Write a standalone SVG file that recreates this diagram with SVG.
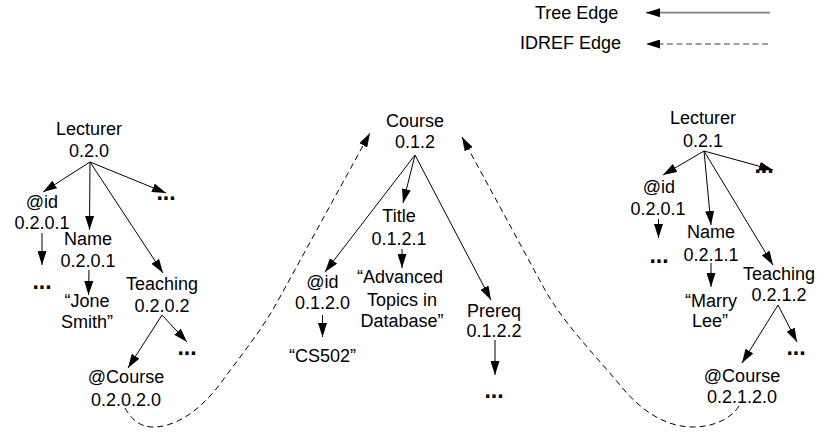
<svg xmlns="http://www.w3.org/2000/svg" width="818" height="432" viewBox="0 0 818 432">
  <style>
    text { font-family: "Liberation Sans", Arial, sans-serif; font-size: 18px; fill: #000; text-anchor: middle; }
    text.dots { font-weight: bold; font-size: 23px; }
    text.legend { text-anchor: start; }
    .tree { stroke: #000; stroke-width: 1; fill: none; marker-end: url(#head); }
    .idref { stroke: #000; stroke-width: 1; fill: none; stroke-dasharray: 6 4; marker-end: url(#head); }
    .leg-tree { stroke: #808080; stroke-width: 1.7; fill: none; marker-end: url(#head); }
    .leg-idref { stroke: #808080; stroke-width: 1.7; fill: none; stroke-dasharray: 6 3.5; marker-end: url(#head); }
  </style>
  <defs>
    <marker id="head" markerUnits="userSpaceOnUse" markerWidth="14" markerHeight="9" refX="14" refY="4.5" orient="auto">
      <path d="M0,0 L14,4.5 L0,9 Z" fill="#000" stroke="none"/>
    </marker>
  </defs>

  <!-- legend -->
  <g id="legend">
    <text class="legend" x="535" y="19">Tree Edge</text>
    <text class="legend" x="520" y="49">IDREF Edge</text>
    <path class="leg-tree" d="M770,12.7 L646,12.7"/>
    <path class="leg-idref" d="M768,44 L646,44"/>
  </g>

  <!-- connectors -->
  <g id="connectors">
    <!-- left Lecturer subtree -->
    <path class="tree" d="M90,162 L43,192"/>
    <path class="tree" d="M90,162 L89.5,230"/>
    <path class="tree" d="M90,162 L163,273"/>
    <path class="tree" d="M90,162 L166,193"/>
    <path class="tree" d="M42,233 L42,265"/>
    <path class="tree" d="M89,270 L88.5,295"/>
    <path class="tree" d="M162,315 L128,368"/>
    <path class="tree" d="M162,315 L187,342"/>
    <!-- Course subtree -->
    <path class="tree" d="M415,155 L403,203"/>
    <path class="tree" d="M402,249 L402,268"/>
    <path class="tree" d="M415,155 L325,272"/>
    <path class="tree" d="M322.5,315 L322.5,337"/>
    <path class="tree" d="M415,155 L491,300"/>
    <path class="tree" d="M495,340 L495,375"/>
    <!-- right Lecturer subtree -->
    <path class="tree" d="M704,151 L663,175"/>
    <path class="tree" d="M658.5,219 L658.5,238"/>
    <path class="tree" d="M704,151 L711,225"/>
    <path class="tree" d="M711,263 L711,287"/>
    <path class="tree" d="M704,151 L773,265"/>
    <path class="tree" d="M704,151 L773,170"/>
    <path class="tree" d="M778,305 L742,363"/>
    <path class="tree" d="M778,305 L797,342"/>
    <!-- IDREF references to Course -->
    <path class="idref" d="M125,408 C133,422 142,427 153,427 C180,427 205,405 223,380 C245,350 262,330 280,297 L370,133"/>
    <path class="idref" d="M739,406 C730,420 712,427 693,427 C665,427 640,410 620,385 C595,355 565,325 545,290 L462,137"/>
  </g>

  <!-- left Lecturer -->
  <g id="lecturer-020">
    <text x="89" y="135">Lecturer</text>
    <text x="89" y="157">0.2.0</text>
  </g>
  <g id="id-0201">
    <text x="42" y="208">@id</text>
    <text x="42" y="229">0.2.0.1</text>
  </g>
  <g id="id-0201-more"><text class="dots" x="42" y="289">...</text></g>
  <g id="name-0201">
    <text x="88" y="245">Name</text>
    <text x="88" y="267">0.2.0.1</text>
  </g>
  <g id="name-0201-value">
    <text x="87" y="307">“Jone</text>
    <text x="87" y="328">Smith”</text>
  </g>
  <g id="lecturer-020-more"><text class="dots" x="166" y="200">...</text></g>
  <g id="teaching-0202">
    <text x="162" y="290">Teaching</text>
    <text x="162" y="312">0.2.0.2</text>
  </g>
  <g id="teaching-0202-more"><text class="dots" x="187" y="355">...</text></g>
  <g id="course-02020">
    <text x="126" y="383">@Course</text>
    <text x="126" y="406">0.2.0.2.0</text>
  </g>

  <!-- Course -->
  <g id="course-012">
    <text x="415" y="127">Course</text>
    <text x="415" y="148">0.1.2</text>
  </g>
  <g id="title-0121">
    <text x="399" y="222">Title</text>
    <text x="399" y="245">0.1.2.1</text>
  </g>
  <g id="title-0121-value">
    <text x="400" y="283">“Advanced</text>
    <text x="402" y="306">Topics in</text>
    <text x="402" y="327">Database”</text>
  </g>
  <g id="id-0120">
    <text x="322.5" y="288">@id</text>
    <text x="322.5" y="309">0.1.2.0</text>
  </g>
  <g id="id-0120-value"><text x="322.5" y="362">“CS502”</text></g>
  <g id="prereq-0122">
    <text x="494" y="317">Prereq</text>
    <text x="494" y="337">0.1.2.2</text>
  </g>
  <g id="prereq-0122-more"><text class="dots" x="494" y="398">...</text></g>

  <!-- right Lecturer -->
  <g id="lecturer-021">
    <text x="703" y="124">Lecturer</text>
    <text x="703" y="147">0.2.1</text>
  </g>
  <g id="id-0211">
    <text x="659" y="193">@id</text>
    <text x="658" y="215">0.2.0.1</text>
  </g>
  <g id="id-0211-more"><text class="dots" x="659" y="263">...</text></g>
  <g id="name-0211">
    <text x="711" y="238">Name</text>
    <text x="711" y="261">0.2.1.1</text>
  </g>
  <g id="name-0211-value">
    <text x="711" y="307">“Marry</text>
    <text x="710" y="327">Lee”</text>
  </g>
  <g id="lecturer-021-more"><text class="dots" x="764" y="173">...</text></g>
  <g id="teaching-0212">
    <text x="779" y="280">Teaching</text>
    <text x="779" y="301">0.2.1.2</text>
  </g>
  <g id="teaching-0212-more"><text class="dots" x="796" y="355">...</text></g>
  <g id="course-02120">
    <text x="742" y="382">@Course</text>
    <text x="742" y="403">0.2.1.2.0</text>
  </g>
</svg>
